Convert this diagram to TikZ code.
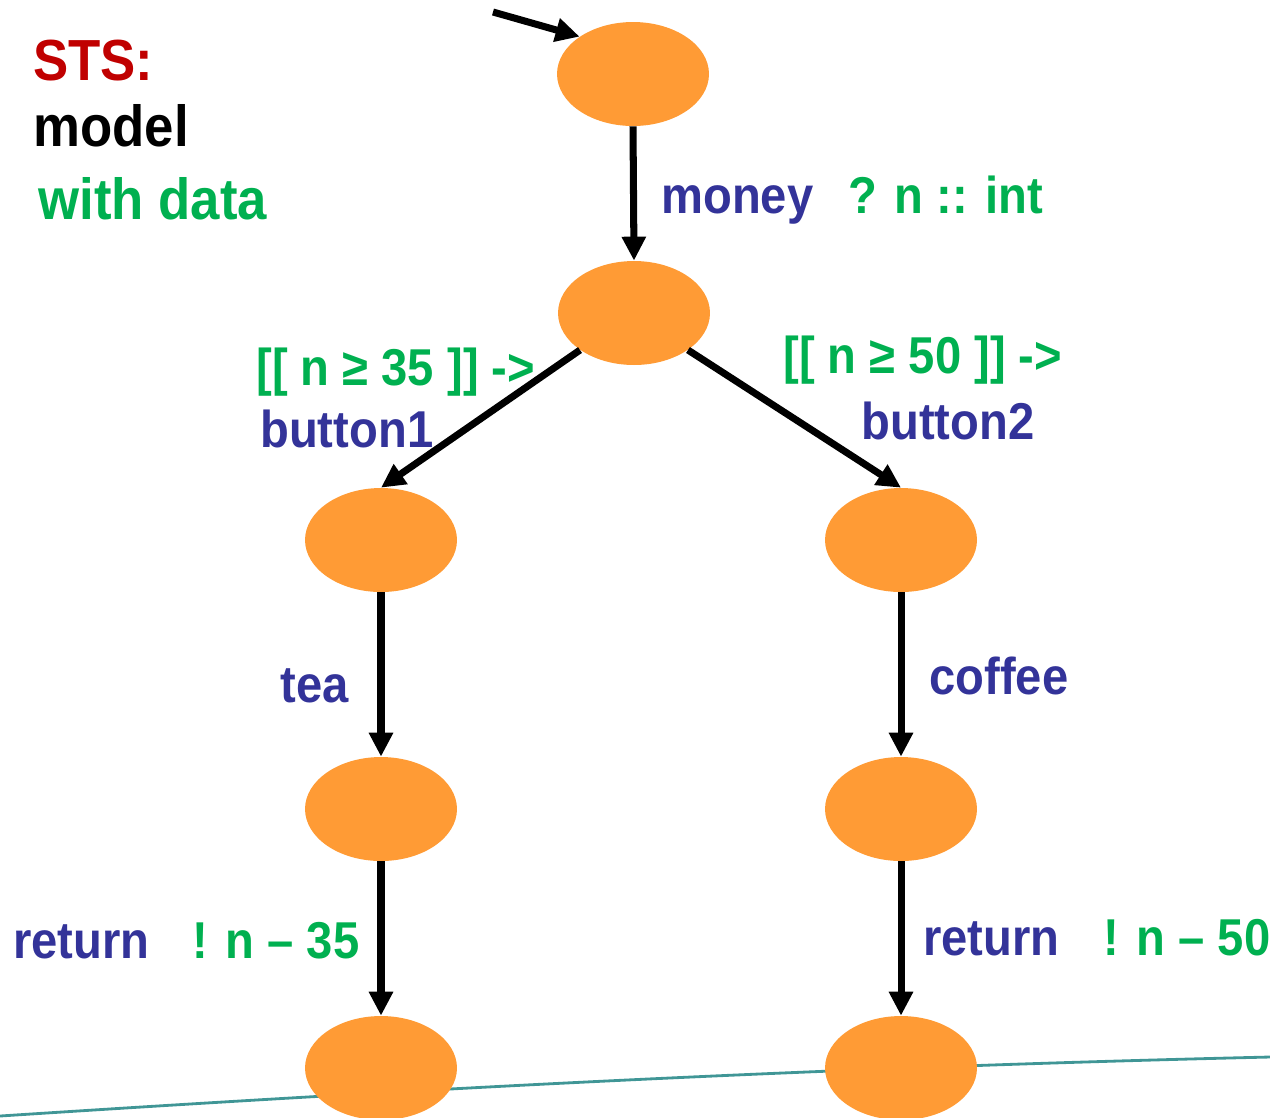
\documentclass[tikz,border=0pt]{standalone}
\usepackage{fontspec}
\setmainfont[FakeStretch=0.91]{Liberation Sans}
\usetikzlibrary{arrows.meta}
\usetikzlibrary{shapes.geometric}
\definecolor{stsorange}{RGB}{255,155,53}
\definecolor{actblue}{RGB}{51,51,153}
\definecolor{datagreen}{RGB}{0,176,80}
\definecolor{stsred}{RGB}{192,0,0}
\definecolor{slateal}{RGB}{64,150,150}

\begin{document}
\begin{tikzpicture}[x=0.02cm,y=-0.02cm,
  state/.style={ellipse,fill=stsorange,minimum width=3.04cm,minimum height=2.08cm,inner sep=0pt},
  trans/.style={line width=4pt,-{Triangle[length=0.48cm,width=0.46cm]}},
  lbl/.style={font=\fontsize{29.5}{35}\selectfont\bfseries,anchor=base west,inner sep=0pt},
  head/.style={lbl,font=\fontsize{33}{40}\selectfont\bfseries}]
\useasboundingbox (0,0) rectangle (1270,1117);
% background curve
\draw[slateal,line width=1.6pt] (0,1116) .. controls (400,1090) and (800,1068) .. (1270,1057);
% states
\node[state] (s0) at (633,74) {};
\node[state] (s1) at (634,313) {};
\node[state] (s2) at (381,540) {};
\node[state] (s3) at (901,540) {};
\node[state] (s4) at (381,809) {};
\node[state] (s5) at (901,809) {};
\node[state] (s6) at (381,1068) {};
\node[state] (s7) at (901,1068) {};
% transitions
\coordinate (init) at (493,12);
\draw[trans] (init) -- (s0.145);
\draw[trans] (s0.south) -- (s1.north);
\draw[trans] (s1.south west) -- (s2.north);
\draw[trans] (s1.south east) -- (s3.north);
\draw[trans] (s2.south) -- (s4.north);
\draw[trans] (s3.south) -- (s5.north);
\draw[trans] (s4.south) -- (s6.north);
\draw[trans] (s5.south) -- (s7.north);
% labels
\node[head,stsred] (title) at (33,80) {STS:};
\node[head] (model) at (33,146) {model};
\node[head,datagreen] (data) at (38,219) {with data};
\node[lbl,actblue] (money) at (661,213) {money};
\node[lbl,datagreen] (moneyvar) at (848,213) {? n :: int};
\node[lbl,datagreen] (guard1) at (256,385) {[[ n ≥ 35 ]] ->};
\node[lbl,actblue] (button1) at (260,447) {button1};
\node[lbl,datagreen] (guard2) at (783,373) {[[ n ≥ 50 ]] ->};
\node[lbl,actblue] (button2) at (861,439) {button2};
\node[lbl,actblue] (tea) at (280,702) {tea};
\node[lbl,actblue] (coffee) at (929,694) {coffee};
\node[lbl,actblue] (return1) at (13,958) {return};
\node[lbl,datagreen] (change1) at (192,958) {! n – 35};
\node[lbl,actblue] (return2) at (923,955) {return};
\node[lbl,datagreen] (change2) at (1103,955) {! n – 50};
\end{tikzpicture}
\end{document}
